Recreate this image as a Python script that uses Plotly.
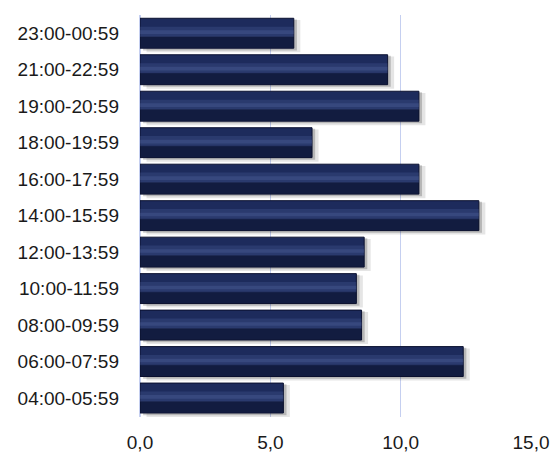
import plotly.graph_objects as go

categories = ["04:00-05:59", "06:00-07:59", "08:00-09:59", "10:00-11:59",
              "12:00-13:59", "14:00-15:59", "16:00-17:59", "18:00-19:59",
              "19:00-20:59", "21:00-22:59", "23:00-00:59"]
values = [5.5, 12.4, 8.5, 8.3, 8.6, 13.0, 10.7, 6.6, 10.7, 9.5, 5.9]
x_ticks = [0, 5, 10, 15]

fig = go.Figure()

# soft shadow layers
fig.add_trace(go.Bar(y=categories, x=values, base=0.25, orientation="h",
                     width=0.88, offset=-0.52,
                     marker=dict(color="rgba(0,0,0,0.10)", line=dict(width=0)),
                     hoverinfo="skip", showlegend=False))
fig.add_trace(go.Bar(y=categories, x=values, base=0.12, orientation="h",
                     width=0.85, offset=-0.47,
                     marker=dict(color="rgba(0,0,0,0.20)", line=dict(width=0)),
                     hoverinfo="skip", showlegend=False))
# main bar
fig.add_trace(go.Bar(y=categories, x=values, orientation="h", width=0.82,
                     marker=dict(color="#1d2b5c", line=dict(color="#0b1130", width=1)),
                     showlegend=False))
# darker lower part
fig.add_trace(go.Bar(y=categories, x=values, orientation="h", width=0.32, offset=-0.40,
                     marker=dict(color="rgba(8,14,36,0.5)", line=dict(width=0)),
                     hoverinfo="skip", showlegend=False))
# soft highlight band
fig.add_trace(go.Bar(y=categories, x=values, orientation="h", width=0.28, offset=-0.10,
                     marker=dict(color="rgba(70,90,150,0.32)", line=dict(width=0)),
                     hoverinfo="skip", showlegend=False))
# highlight stripe
fig.add_trace(go.Bar(y=categories, x=values, orientation="h", width=0.1, offset=-0.02,
                     marker=dict(color="rgba(90,110,170,0.28)", line=dict(width=0)),
                     hoverinfo="skip", showlegend=False))

fig.update_layout(
    width=553, height=458,
    margin=dict(l=140, r=22, t=15, b=41),
    barmode="overlay",
    paper_bgcolor="white", plot_bgcolor="white",
    separators=",.",
    font=dict(family="Liberation Sans, Arial, sans-serif", size=19, color="#1a1a1a"),
)
fig.update_xaxes(range=[0, 15], tickvals=x_ticks, tickformat=".1f",
                 showgrid=True, gridcolor="#c5cff0", gridwidth=1.2,
                 zeroline=True, zerolinecolor="#c5cff0", zerolinewidth=1.5,
                 showline=False, ticks="", ticklabelstandoff=12, automargin=False)
fig.update_yaxes(type="category", categoryorder="array", categoryarray=categories,
                 showgrid=False, zeroline=False, showline=False, ticks="",
                 ticklabelstandoff=20, automargin=False)

fig.write_html("out.html", config={"displayModeBar": False},
               post_script="document.body.style.margin='0';document.body.style.overflow='hidden';")
